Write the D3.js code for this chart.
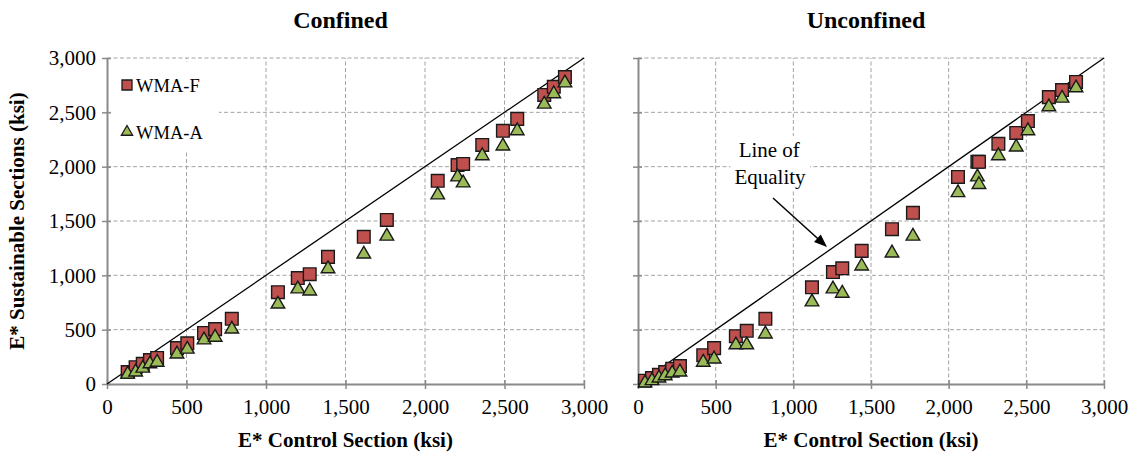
<!DOCTYPE html>
<html>
<head>
<meta charset="utf-8">
<script src="https://cdnjs.cloudflare.com/ajax/libs/d3/7.8.5/d3.min.js"></script>
<style>
  body { margin: 0; background: #fff; }
  svg text { font-family: "Liberation Serif", "DejaVu Serif", "Noto Serif", Tinos, serif; fill: #000; }
</style>
</head>
<body>
<div id="chart"></div>
<script>
// axis ticks shared by both panels (ksi)
const axisTicks = [0, 500, 1000, 1500, 2000, 2500, 3000];

// Confined panel
const confinedControl = [130, 180, 225, 270, 315, 440, 505, 610, 680, 785, 1075, 1200, 1275, 1390, 1615, 1760, 2080, 2205, 2240, 2360, 2490, 2580, 2750, 2810, 2880];
const confinedWmaF = [110, 155, 185, 220, 240, 330, 375, 470, 505, 600, 845, 975, 1010, 1170, 1355, 1510, 1870, 2015, 2025, 2200, 2330, 2440, 2660, 2735, 2825];
const confinedWmaA = [90, 110, 145, 185, 200, 275, 320, 405, 430, 505, 735, 875, 855, 1060, 1195, 1360, 1740, 1905, 1850, 2100, 2190, 2330, 2575, 2670, 2770];

// Unconfined panel
const unconfinedControl = [45, 90, 135, 175, 220, 270, 420, 490, 630, 700, 820, 1120, 1255, 1315, 1440, 1635, 1770, 2060, 2185, 2195, 2320, 2435, 2510, 2645, 2730, 2820];
const unconfinedWmaF = [30, 55, 85, 110, 140, 165, 265, 330, 440, 490, 600, 890, 1030, 1065, 1225, 1425, 1575, 1905, 2045, 2045, 2210, 2310, 2420, 2640, 2705, 2780];
const unconfinedWmaA = [10, 30, 55, 75, 100, 110, 200, 230, 360, 360, 460, 755, 875, 835, 1085, 1205, 1360, 1760, 1905, 1835, 2100, 2180, 2330, 2550, 2630, 2725];

const seriesNames = ["WMA-F", "WMA-A"];
const colorF = "#C0504D", colorA = "#9BBB59";
const serif = '"Liberation Serif", "DejaVu Serif", "Noto Serif", Tinos, serif';

const width = 1138, height = 457;
const svg = d3.select("#chart").append("svg")
    .attr("width", width)
    .attr("height", height)
    .attr("font-family", serif);
svg.append("rect").attr("width", width).attr("height", height).attr("fill", "#fff");

const squareSym = d3.symbol(d3.symbolSquare, 160);
const triSym = d3.symbol(d3.symbolTriangle, 80);

function drawPanel(opts) {
    const x = d3.scaleLinear().domain([0, 3000]).range([opts.left, opts.right]);
    const y = d3.scaleLinear().domain([0, 3000]).range([384, 58]);
    const g = svg.append("g");

    // dashed grid
    g.selectAll(".hgrid").data(axisTicks.slice(1)).join("line")
        .attr("x1", x(0)).attr("x2", x(3000))
        .attr("y1", d => y(d)).attr("y2", d => y(d))
        .attr("stroke", "#a3a3a3").attr("stroke-dasharray", "4,2.5");
    g.selectAll(".vgrid").data(axisTicks.slice(1)).join("line")
        .attr("x1", d => x(d)).attr("x2", d => x(d))
        .attr("y1", y(0)).attr("y2", y(3000))
        .attr("stroke", "#a3a3a3").attr("stroke-dasharray", "4,2.5");

    // x axis
    const xAxis = g.append("g")
        .attr("transform", `translate(0,${y(0)})`)
        .call(d3.axisBottom(x).tickValues(axisTicks).tickFormat(d3.format(",")).tickSizeOuter(0))
        .attr("font-family", serif);
    xAxis.select(".domain").attr("stroke", "#8a8a8a").attr("stroke-width", 2);
    xAxis.selectAll(".tick line").attr("stroke", "#8a8a8a").attr("stroke-width", 1.5).attr("y1", -4).attr("y2", 5);
    xAxis.selectAll(".tick text").attr("y", 15).attr("dy", "0.71em")
        .style("font-size", "21px");

    // y axis
    const yAxis = g.append("g")
        .attr("transform", `translate(${x(0)},0)`)
        .call(d3.axisLeft(y).tickValues(axisTicks).tickFormat(d3.format(",")).tickSizeOuter(0))
        .attr("font-family", serif);
    yAxis.select(".domain").attr("stroke", "#8a8a8a").attr("stroke-width", 2);
    yAxis.selectAll(".tick line").attr("stroke", "#8a8a8a").attr("stroke-width", 1.5).attr("x1", -5).attr("x2", 4);
    yAxis.selectAll(".tick text").attr("x", -11)
        .style("font-size", "21px")
        .style("display", opts.yLabels ? null : "none");

    // line of equality
    g.append("line")
        .attr("x1", x(0)).attr("y1", y(0)).attr("x2", x(3000)).attr("y2", y(3000))
        .attr("stroke", "#000").attr("stroke-width", 1.3);

    // WMA-F squares
    g.selectAll(".sq").data(opts.control.map((c, i) => [c, opts.wmaF[i]])).join("path")
        .attr("d", squareSym)
        .attr("transform", d => `translate(${x(d[0])},${y(d[1])})`)
        .attr("fill", colorF).attr("stroke", "#1a1a1a").attr("stroke-width", 1.4);
    // WMA-A triangles
    g.selectAll(".tri").data(opts.control.map((c, i) => [c, opts.wmaA[i]])).join("path")
        .attr("d", triSym)
        .attr("transform", d => `translate(${x(d[0])},${y(d[1])})`)
        .attr("fill", colorA).attr("stroke", "#1a1a1a").attr("stroke-width", 1.4);

    // title
    g.append("text")
        .attr("x", (opts.left + opts.right) / 2 - 5).attr("y", 28)
        .attr("text-anchor", "middle")
        .style("font-size", "24px").style("font-weight", "bold")
        .text(opts.title);
    // x axis title
    g.append("text")
        .attr("x", (opts.left + opts.right) / 2).attr("y", 447)
        .attr("text-anchor", "middle")
        .style("font-size", "21px").style("font-weight", "bold")
        .text("E* Control Section (ksi)");

    return { g, x, y };
}

const left = drawPanel({
    left: 107, right: 584, title: "Confined", yLabels: true,
    control: confinedControl, wmaF: confinedWmaF, wmaA: confinedWmaA
});
const right = drawPanel({
    left: 638, right: 1104, title: "Unconfined", yLabels: false,
    control: unconfinedControl, wmaF: unconfinedWmaF, wmaA: unconfinedWmaA
});

// y axis title
svg.append("text")
    .attr("transform", "translate(24,221) rotate(-90)")
    .attr("text-anchor", "middle")
    .style("font-size", "21px").style("font-weight", "bold")
    .text("E* Sustainable Sections (ksi)");

// legend (left panel)
const legend = svg.append("g");
legend.append("rect")
    .attr("x", 111).attr("y", 62).attr("width", 108).attr("height", 90)
    .attr("fill", "#fff");
legend.append("path")
    .attr("d", d3.symbol(d3.symbolSquare, 100))
    .attr("transform", "translate(127,85)")
    .attr("fill", colorF).attr("stroke", "#1a1a1a").attr("stroke-width", 1.3);
legend.append("path")
    .attr("d", d3.symbol(d3.symbolTriangle, 55))
    .attr("transform", "translate(127,132)")
    .attr("fill", colorA).attr("stroke", "#1a1a1a").attr("stroke-width", 1.3);
legend.selectAll(".lt").data(seriesNames).join("text")
    .attr("x", 136).attr("y", (d, i) => 92 + i * 47)
    .style("font-size", "18.5px")
    .text(d => d);

// "Line of Equality" annotation (right panel)
const ann = right.g.append("g");
const annBox = ann.append("rect").attr("fill", "#fff");
const annText = ann.append("text")
    .attr("text-anchor", "middle")
    .style("font-size", "21px");
annText.append("tspan").attr("x", right.x(845)).attr("y", 157).text("Line of");
annText.append("tspan").attr("x", right.x(850)).attr("y", 184).text("Equality");
const bb = annText.node().getBBox();
annBox.attr("x", bb.x - 4).attr("y", bb.y - 2).attr("width", bb.width + 8).attr("height", bb.height + 4);

// arrow
const ax1 = right.x(869), ay1 = right.y(1712), ax2 = right.x(1217), ay2 = right.y(1261);
const ang = Math.atan2(ay2 - ay1, ax2 - ax1);
const headLen = 13, headW = 5;
ann.append("line")
    .attr("x1", ax1).attr("y1", ay1)
    .attr("x2", ax2 - Math.cos(ang) * headLen * 0.8).attr("y2", ay2 - Math.sin(ang) * headLen * 0.8)
    .attr("stroke", "#000").attr("stroke-width", 1.5);
const bx = ax2 - Math.cos(ang) * headLen, by = ay2 - Math.sin(ang) * headLen;
ann.append("path")
    .attr("d", `M${ax2},${ay2} L${bx - Math.sin(ang) * headW},${by + Math.cos(ang) * headW} L${bx + Math.sin(ang) * headW},${by - Math.cos(ang) * headW} Z`)
    .attr("fill", "#000");
</script>
</body>
</html>
